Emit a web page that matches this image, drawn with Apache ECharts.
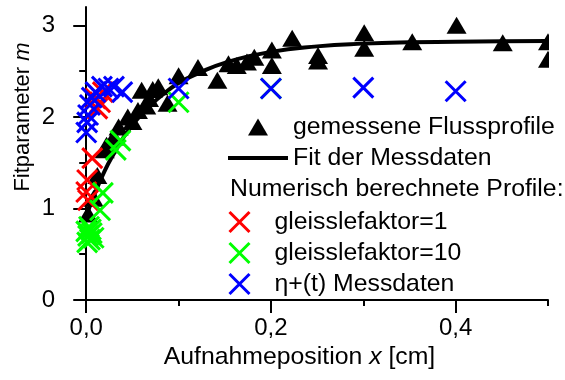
<!DOCTYPE html>
<html><head><meta charset="utf-8">
<script src="https://cdn.jsdelivr.net/npm/echarts@6/dist/echarts.min.js"></script>
<style>html,body{margin:0;padding:0;background:#fff}#c{width:565px;height:380px}</style>
</head><body><div id="c"></div>
<script>
// ---- data ----
const measured = [[0.002,0.94],[0.008,1.11],[0.012,1.36],[0.02,1.64],[0.022,1.69],[0.03,1.78],[0.035,1.89],[0.045,2.0],[0.05,1.95],[0.056,2.07],[0.06,2.29],[0.065,2.12],[0.068,2.2],[0.072,2.3],[0.078,2.33],[0.088,2.15],[0.1,2.45],[0.121,2.54],[0.142,2.40],[0.154,2.58],[0.163,2.56],[0.174,2.6],[0.182,2.65],[0.201,2.73],[0.201,2.56],[0.223,2.86],[0.251,2.67],[0.251,2.61],[0.301,2.92],[0.301,2.75],[0.353,2.82],[0.401,3.0],[0.451,2.81],[0.5,2.82],[0.5,2.63]];
const fitLine = [[0,0.92],[0.01,1.18],[0.02,1.41],[0.03,1.6],[0.04,1.77],[0.05,1.91],[0.06,2.03],[0.07,2.13],[0.08,2.22],[0.1,2.37],[0.12,2.47],[0.15,2.59],[0.2,2.71],[0.25,2.77],[0.3,2.8],[0.35,2.815],[0.4,2.82],[0.45,2.825],[0.5,2.83]];
const gleit1 = [[0.001,1.31],[0.0,1.18],[0.002,1.09],[0.0065,1.55],[0.012,2.09],[0.015,2.16],[0.018,2.27],[0.01,2.2]];
const gleit10 = [[0.0,0.75],[0.002,0.7],[0.004,0.66],[0.006,0.73],[0.008,0.68],[0.003,0.8],[0.001,0.63],[0.005,0.77],[0.015,0.98],[0.018,1.17],[0.032,1.64],[0.037,1.74],[0.1,2.16],[0.2,2.31]];
const etaData = [[0,1.83],[0.001,1.94],[0.002,2.02],[0.004,2.13],[0.006,2.21],[0.01,2.27],[0.017,2.33],[0.024,2.31],[0.03,2.33],[0.039,2.27],[0.1,2.31],[0.2,2.31],[0.3,2.32],[0.4,2.28]];
const xMajor = [0, 0.2, 0.4];
const xMinor = [0.1, 0.3, 0.5];
const yMajor = [0, 1, 2, 3];
const yMinor = [0.5, 1.5, 2.5];
const names = ['gemessene Flussprofile','Fit der Messdaten','gleisslefaktor=1','gleisslefaktor=10','η+(t) Messdaten'];
const heading = 'Numerisch berechnete Profile:';

const FONT = '"Liberation Sans", Arial, sans-serif';
const XPATH = 'path://M0,0L20,20M20,0L0,20';
const TRI = 'path://M10,0L20,17L0,17Z';
const LINEICON = 'path://M0,0L60,0L60,4L0,4Z';
const xStyle = c => ({color:'rgba(0,0,0,0)', borderColor:c, borderWidth:3, opacity:1});
const LF = 24.8;

const chart = echarts.init(document.getElementById('c'), null, {renderer:'canvas'});
const axisLine = {show:true, lineStyle:{color:'#000', width:2}};
chart.setOption({
  animation:false,
  backgroundColor:'#fff',
  textStyle:{fontFamily:FONT, color:'#000'},
  grid:{left:77, right:17, top:7, bottom:80, containLabel:false},
  xAxis:[
    {type:'value', min:-0.01, max:0.5, position:'bottom',
     axisLine:axisLine, splitLine:{show:false},
     axisTick:{show:true, length:13, inside:false, lineStyle:{color:'#000', width:2}, customValues:xMajor},
     axisLabel:{show:true, margin:16, fontSize:24, color:'#000', fontFamily:FONT, customValues:xMajor,
       formatter:v=>v.toFixed(1).replace('.', ',')},
     name:'{a|Aufnahmeposition }{i|x}{a| [cm]}', nameLocation:'middle', nameGap:39,
     nameTextStyle:{padding:[0,26,0,0], rich:{a:{fontSize:LF, fontFamily:FONT, color:'#000'}, i:{fontSize:LF, fontStyle:'italic', fontFamily:FONT, color:'#000'}}}
    },
    {type:'value', min:-0.01, max:0.5, position:'bottom',
     axisLine:{show:false}, splitLine:{show:false}, axisLabel:{show:false},
     axisTick:{show:true, length:6, lineStyle:{color:'#000', width:2}, customValues:xMinor}}
  ],
  yAxis:[
    {type:'value', min:0, max:3.2, position:'left',
     axisLine:axisLine, splitLine:{show:false},
     axisTick:{show:true, length:13, lineStyle:{color:'#000', width:2}, customValues:yMajor},
     axisLabel:{show:true, margin:22, fontSize:24, color:'#000', fontFamily:FONT, customValues:yMajor}},
    {type:'value', min:0, max:3.2, position:'left',
     axisLine:{show:false}, splitLine:{show:false}, axisLabel:{show:false},
     axisTick:{show:true, length:7, lineStyle:{color:'#000', width:2}, customValues:yMinor}}
  ],
  legend:[
    {orient:'vertical', left:228, top:114, padding:0, itemWidth:60, itemHeight:17, itemGap:5,
     textStyle:{fontSize:LF, fontFamily:FONT, color:'#000', lineHeight:26}, selectedMode:false,
     data:[{name:names[0], icon:TRI, itemStyle:{color:'#000', opacity:1}}, {name:names[1], icon:LINEICON, itemStyle:{color:'#000', opacity:1}}]},
    {orient:'vertical', left:228, top:209, padding:0, itemWidth:60, itemHeight:20, itemGap:5,
     textStyle:{fontSize:LF, fontFamily:FONT, color:'#000', lineHeight:26}, selectedMode:false,
     data:[{name:names[2], icon:XPATH, itemStyle:xStyle('#ff0000')},
           {name:names[3], icon:XPATH, itemStyle:xStyle('#00ff00')},
           {name:names[4], icon:XPATH, itemStyle:xStyle('#0000ff')}]}
  ],
  graphic:[
    {type:'text', left:230, top:177, style:{text:heading, fontSize:LF, fontFamily:FONT, fill:'#000'}},
    {type:'text', x:23, y:117, rotation:Math.PI/2,
     style:{text:'{a|Fitparameter }{i|m}', align:'center', verticalAlign:'middle',
       rich:{a:{fontSize:22, fontFamily:FONT, fill:'#000'}, i:{fontSize:22, fontStyle:'italic', fontFamily:FONT, fill:'#000'}}}},
    {type:'rect', shape:{x:549, y:0, width:16, height:100}, style:{fill:'#fff'}, z:100}
  ],
  series:[
    {name:names[0], type:'scatter', data:measured, symbol:TRI, symbolSize:[20,17], itemStyle:{color:'#000', opacity:1}, z:2, emphasis:{disabled:true}},
    {name:names[1], type:'line', data:fitLine, smooth:true, symbol:'none', lineStyle:{color:'#000', width:4}, itemStyle:{color:'#000'}, z:3, emphasis:{disabled:true}},
    {name:names[2], type:'scatter', data:gleit1, symbol:XPATH, symbolSize:20, itemStyle:xStyle('#ff0000'), z:4, emphasis:{disabled:true}},
    {name:names[3], type:'scatter', data:gleit10, symbol:XPATH, symbolSize:20, itemStyle:xStyle('#00ff00'), z:5, emphasis:{disabled:true}},
    {name:names[4], type:'scatter', data:etaData, symbol:XPATH, symbolSize:20, itemStyle:xStyle('#0000ff'), z:6, emphasis:{disabled:true}}
  ]
});
</script></body></html>
